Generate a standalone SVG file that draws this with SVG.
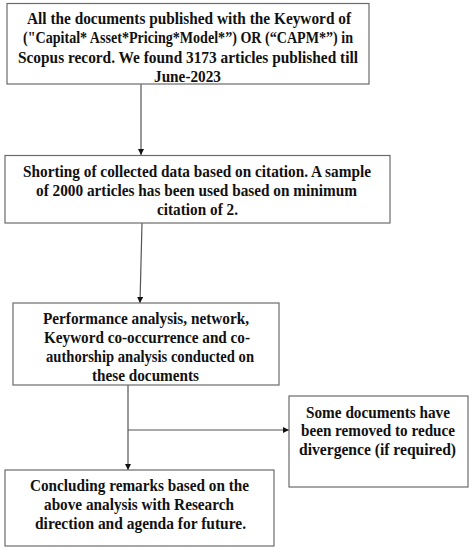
<svg xmlns="http://www.w3.org/2000/svg" width="473" height="550" viewBox="0 0 473 550">
<style>
.box{fill:#fff;stroke:#6b6b6b;stroke-width:1.2}
.t{font-family:"Liberation Serif","Times New Roman",serif;font-weight:bold;font-size:16px;fill:#111;text-anchor:middle}
.c{stroke:#555;stroke-width:1.2;fill:none}
</style>
<defs>
<marker id="ah" viewBox="0 0 10 10" refX="10" refY="5" markerWidth="6" markerHeight="6" markerUnits="userSpaceOnUse" orient="auto">
<path d="M0,0 L10,5 L0,10 z" fill="#111"/>
</marker>
</defs>
<rect width="473" height="550" fill="#fff"/>
<g id="connectors">
<line class="c" x1="141" y1="84" x2="141" y2="155" marker-end="url(#ah)"/>
<line class="c" x1="142" y1="223" x2="140" y2="303" marker-end="url(#ah)"/>
<line class="c" x1="128" y1="385" x2="128" y2="470" marker-end="url(#ah)"/>
<line class="c" x1="128" y1="430" x2="289" y2="430" marker-end="url(#ah)"/>
</g>
<g id="n1">
<rect class="box" x="7" y="3.5" width="362" height="80.5"/>
<text class="t" x="189" y="23.5" textLength="324" lengthAdjust="spacingAndGlyphs">All the documents published with the Keyword of</text>
<text class="t" x="188" y="43" textLength="330" lengthAdjust="spacingAndGlyphs">("Capital* Asset*Pricing*Model*”) OR (“CAPM*”) in</text>
<text class="t" x="188" y="62.5" textLength="340" lengthAdjust="spacingAndGlyphs">Scopus record. We found 3173 articles published till</text>
<text class="t" x="187.5" y="82" textLength="67" lengthAdjust="spacingAndGlyphs">June-2023</text>
</g>
<g id="n2">
<rect class="box" x="5" y="155.5" width="385" height="67.5"/>
<text class="t" x="197" y="176.5" textLength="348" lengthAdjust="spacingAndGlyphs">Shorting of collected data based on citation. A sample</text>
<text class="t" x="196.5" y="195.5" textLength="321" lengthAdjust="spacingAndGlyphs">of 2000 articles has been used based on minimum</text>
<text class="t" x="197.5" y="214.5" textLength="81" lengthAdjust="spacingAndGlyphs">citation of 2.</text>
</g>
<g id="n3">
<rect class="box" x="13" y="303" width="266" height="82"/>
<text class="t" x="146" y="323.5" textLength="206" lengthAdjust="spacingAndGlyphs">Performance analysis, network,</text>
<text class="t" x="147" y="342.5" textLength="206" lengthAdjust="spacingAndGlyphs">Keyword co-occurrence and co-</text>
<text class="t" x="150" y="361.5" textLength="208" lengthAdjust="spacingAndGlyphs">authorship analysis conducted on</text>
<text class="t" x="145.5" y="381" textLength="107" lengthAdjust="spacingAndGlyphs">these documents</text>
</g>
<g id="n4">
<rect class="box" x="5" y="470" width="269" height="76"/>
<text class="t" x="139.5" y="490.5" textLength="219" lengthAdjust="spacingAndGlyphs">Concluding remarks based on the</text>
<text class="t" x="139" y="509.5" textLength="190" lengthAdjust="spacingAndGlyphs">above analysis with Research</text>
<text class="t" x="140.5" y="528.5" textLength="211" lengthAdjust="spacingAndGlyphs">direction and agenda for future.</text>
</g>
<g id="n5">
<rect class="box" x="289" y="396" width="179" height="91"/>
<text class="t" x="378" y="417.5" textLength="144" lengthAdjust="spacingAndGlyphs">Some documents have</text>
<text class="t" x="378" y="436" textLength="154" lengthAdjust="spacingAndGlyphs">been removed to reduce</text>
<text class="t" x="377.5" y="454.5" textLength="157" lengthAdjust="spacingAndGlyphs">divergence (if required)</text>
</g>
</svg>
